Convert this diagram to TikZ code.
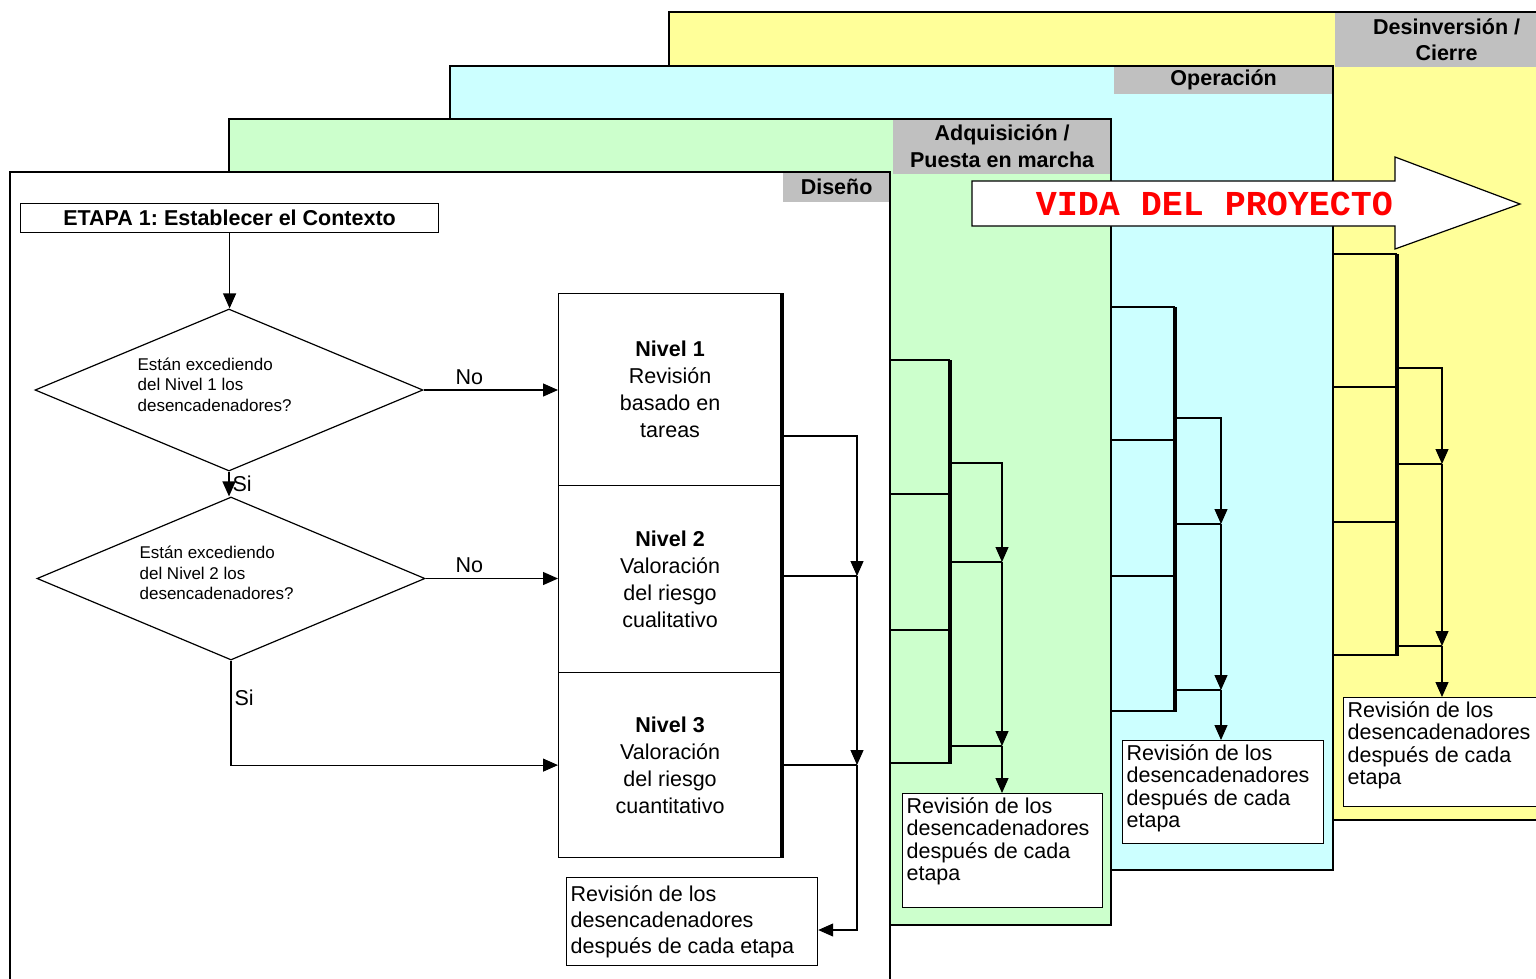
\documentclass[tikz,border=0pt]{standalone}
\usepackage{fontspec}
\setmainfont{Liberation Sans}
\newfontfamily\vidafont{Liberation Mono}
\usetikzlibrary{shapes.geometric,arrows.meta}
\definecolor{pyellow}{HTML}{FFFF99}
\definecolor{pcyan}{HTML}{CCFFFF}
\definecolor{pgreen}{HTML}{CCFFCC}
\definecolor{hgray}{HTML}{C0C0C0}
\definecolor{vidared}{HTML}{FF0000}
\newcommand\fsz[2]{\fontsize{#1}{#2}\selectfont}
\frenchspacing
\begin{document}
\frenchspacing
\begin{tikzpicture}[x=1pt,y=-1pt,line width=1.2pt,
  >={Triangle[length=15pt,width=13pt]},
  hdr/.style={fill=hgray,inner sep=0pt,align=center,anchor=north west,font=\fsz{21.5}{26.5}\bfseries},
  lvl/.style={draw,anchor=north west,minimum width=223pt,inner sep=0pt,align=center,font=\fsz{21.5}{27}},
  rev/.style={draw,fill=white,anchor=north west,inner sep=4pt,font=\fsz{21.5}{22.3}},
  dtext/.style={anchor=west,align=left,inner sep=0pt,font=\fsz{17}{20.5}},
  lab/.style={font=\fsz{21.5}{24},inner sep=1pt},
  bar/.style={line width=3.5pt},
  panelline/.style={line width=1.3pt}
]
\useasboundingbox (0,0) rectangle (1536,978);

% ---------- yellow panel ----------
\fill[pyellow] (669,12) rectangle (1560,820);
\node[hdr,minimum width=224pt,minimum height=54pt] (hY) at (1334,12) {Desinversión /\\Cierre};
\draw[panelline] (669,12) rectangle (1560,820);

% ---------- cyan panel ----------
\fill[pcyan] (450,66) rectangle (1333,870);
\node[hdr,minimum width=220pt,minimum height=27pt] (hC) at (1113,66) {Operación};
\draw[panelline] (450,66) rectangle (1333,870);

% ---------- green panel ----------
\fill[pgreen] (229,119) rectangle (1111,925);
\node[hdr,minimum width=219pt,minimum height=54pt,font=\fsz{21.5}{27}\bfseries] (hG) at (892,119) {Adquisición /\\Puesta en marcha};
\draw[panelline] (229,119) rectangle (1111,925);

% ---------- white panel ----------
\fill[white] (10,172) rectangle (890,1000);
\node[hdr,minimum width=108pt,minimum height=29pt] (hW) at (782,172) {Diseño};
\draw[panelline] (10,1000) -- (10,172) -- (890,172) -- (890,1000);

% ---------- VIDA DEL PROYECTO arrow ----------
\draw[fill=white] (972,181) -- (1395,181) -- (1395,157) -- (1520,204) -- (1395,249) -- (1395,226) -- (972,226) -- cycle;
\node[font=\vidafont\bfseries\fsz{35}{35},text=vidared,inner sep=0pt] (vida) at (1214.5,204) {VIDA DEL PROYECTO};

% ---------- Diseño flowchart ----------
\node[draw,anchor=north west,minimum width=418pt,minimum height=29pt,inner sep=0pt,font=\fsz{21.5}{24}\bfseries] (etapa) at (20,203) {ETAPA 1: Establecer el Contexto};

\node[diamond,draw,minimum width=388pt,minimum height=162pt,inner sep=0pt] (d1) at (229,390) {};
\node[dtext] (d1t) at (137,384.5) {Están excediendo\\del Nivel 1 los\\desencadenadores?};
\node[diamond,draw,minimum width=388pt,minimum height=163pt,inner sep=0pt] (d2) at (231,578.5) {};
\node[dtext] (d2t) at (139,573) {Están excediendo\\del Nivel 2 los\\desencadenadores?};

\node[lvl,minimum height=192pt] (n1) at (558,293) {\textbf{Nivel 1}\\Revisión\\basado en\\tareas};
\node[lvl,minimum height=187pt] (n2) at (558,485) {\textbf{Nivel 2}\\Valoración\\del riesgo\\cualitativo};
\node[lvl,minimum height=185pt] (n3) at (558,672) {\textbf{Nivel 3}\\Valoración\\del riesgo\\cuantitativo};
\draw[bar] (n1.north east) -- (n3.south east);

\node[rev,font=\fsz{21.5}{26}] (rev1) at (566,877) {\parbox[t][80pt][t]{243pt}{\rule{0pt}{20pt}Revisión de los\\desencadenadores\\después de cada etapa}};

\draw[->] (etapa.south) -- (etapa.south |- d1.north);
\draw[->] (d1.east) -- node[lab,pos=0.34,above=4pt]{No} (d1.east -| n1.west);
\draw[->] (d1.south) -- node[lab,pos=0.5,right=2pt]{Si} (d1.south |- d2.north);
\draw[->] (d2.east) -- node[lab,pos=0.33,above=4pt]{No} (d2.east -| n2.west);
\draw[->] (d2.south) |- node[lab,pos=0.18,right=2pt]{Si} (n3.west);

\coordinate (n1o) at (781,436);
\coordinate (n2o) at (781,576);
\coordinate (n3o) at (781,765);
\coordinate (r1) at (857,436);
\coordinate (r2) at (857,576);
\coordinate (r3) at (857,765);
\coordinate (r4) at (857,930);
\draw[->] (n1o) -- (r1) -- (r2);
\draw (n2o) -- (r2);
\draw[->] (r2) -- (r3);
\draw (n3o) -- (r3);
\draw[->] (r3) -- (r4) -- (rev1.east |- r4);

% ---------- Adquisición stage ----------
\foreach \yy in {360,494,630,763} \draw (890,\yy) -- (950,\yy);
\draw[bar] (950,360) -- (950,764);
\node[rev] (revG) at (902,793) {\parbox[t][106pt][t]{192pt}{Revisión de los\\desencadenadores\\después de cada\\etapa}};
\coordinate (g1) at (950,463); \coordinate (g1c) at (1002,463);
\coordinate (g2) at (950,562); \coordinate (g2c) at (1002,562);
\coordinate (g3) at (950,746); \coordinate (g3c) at (1002,746);
\draw[->] (g1) -- (g1c) -- (g2c);
\draw (g2) -- (g2c);
\draw[->] (g2c) -- (g3c);
\draw (g3) -- (g3c);
\draw[->] (g3c) -- (g3c |- revG.north);

% ---------- Operación stage ----------
\foreach \yy in {307,440,576,711} \draw (1111,\yy) -- (1175,\yy);
\draw[bar] (1175,307) -- (1175,712);
\node[rev] (revC) at (1122,740) {\parbox[t][95pt][t]{193pt}{Revisión de los\\desencadenadores\\después de cada\\etapa}};
\coordinate (c1) at (1175,418); \coordinate (c1c) at (1221,418);
\coordinate (c2) at (1175,524); \coordinate (c2c) at (1221,524);
\coordinate (c3) at (1175,690); \coordinate (c3c) at (1221,690);
\draw[->] (c1) -- (c1c) -- (c2c);
\draw (c2) -- (c2c);
\draw[->] (c2c) -- (c3c);
\draw (c3) -- (c3c);
\draw[->] (c3c) -- (c3c |- revC.north);

% ---------- Desinversión stage ----------
\foreach \yy in {254,387,522,655} \draw (1333,\yy) -- (1397,\yy);
\draw[bar] (1397,254) -- (1397,656);
\node[rev] (revY) at (1343,697) {\parbox[t][101pt][t]{212pt}{Revisión de los\\desencadenadores\\después de cada\\etapa}};
\coordinate (y1) at (1397,368); \coordinate (y1c) at (1442,368);
\coordinate (y2) at (1397,464); \coordinate (y2c) at (1442,464);
\coordinate (y3) at (1397,646); \coordinate (y3c) at (1442,646);
\draw[->] (y1) -- (y1c) -- (y2c);
\draw (y2) -- (y2c);
\draw[->] (y2c) -- (y3c);
\draw (y3) -- (y3c);
\draw[->] (y3c) -- (y3c |- revY.north);
\end{tikzpicture}
\end{document}
